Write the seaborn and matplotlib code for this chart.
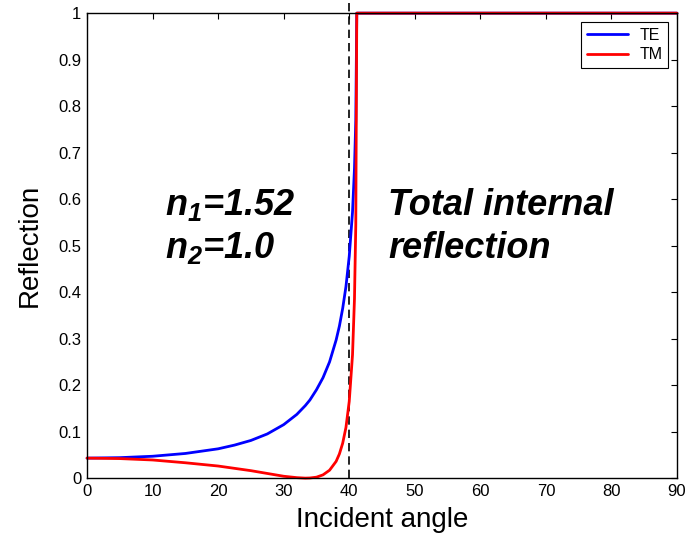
import numpy as np
import matplotlib
matplotlib.use("Agg")
import matplotlib.pyplot as plt
import pandas as pd
import seaborn as sns

# values
angles = [0, 5, 10, 15, 20, 22.5, 25, 27.5, 30, 32, 33.3, 34, 35, 36, 37, 38,
          38.5, 39, 39.5, 40, 40.5, 40.8, 41, 41.15, 45, 50, 60, 70, 80, 90]
te_vals = [0.043, 0.044, 0.047, 0.053, 0.063, 0.071, 0.081, 0.095, 0.115, 0.137,
           0.156, 0.168, 0.190, 0.216, 0.250, 0.297, 0.327, 0.365, 0.412, 0.477,
           0.572, 0.666, 0.770, 1.0, 1.0, 1.0, 1.0, 1.0, 1.0, 1.0]
tm_vals = [0.043, 0.042, 0.039, 0.033, 0.026, 0.021, 0.016, 0.010, 0.004, 0.001,
           0.0, 0.0003, 0.002, 0.007, 0.017, 0.036, 0.052, 0.075, 0.109, 0.165,
           0.265, 0.386, 0.545, 1.0, 1.0, 1.0, 1.0, 1.0, 1.0, 1.0]
critical_angle = 40

df = pd.DataFrame({
    "angle": angles * 2,
    "R": te_vals + tm_vals,
    "mode": ["TE"] * len(angles) + ["TM"] * len(angles),
})

sns.set_theme(style="white")
plt.rcParams["font.family"] = ["Liberation Sans", "DejaVu Sans"]
plt.rcParams["text.color"] = "black"
plt.rcParams["axes.labelcolor"] = "black"
plt.rcParams["mathtext.fontset"] = "custom"
plt.rcParams["mathtext.rm"] = "Liberation Sans:bold:italic"
plt.rcParams["mathtext.it"] = "Liberation Sans:bold:italic"

fig = plt.figure(figsize=(6.88, 5.36), dpi=100)
ax = fig.add_axes([0.1265, 0.108, 0.8575, 0.8675])

sns.lineplot(data=df, x="angle", y="R", hue="mode",
             palette={"TE": "#0000ff", "TM": "#ff0000"}, linewidth=2,
             ax=ax, clip_on=False)
ax.plot([critical_angle, critical_angle], [0, 1.03], color="black",
        ls=(0, (5, 3)), lw=1.2, clip_on=False, zorder=1)

ax.set_xlim(0, 90)
ax.set_ylim(0, 1)
ax.set_xticks(range(0, 91, 10))
ax.set_yticks(np.arange(0, 1.01, 0.1))
ax.set_yticklabels(["0", "0.1", "0.2", "0.3", "0.4", "0.5", "0.6", "0.7",
                    "0.8", "0.9", "1"])
ax.tick_params(direction="in", top=True, right=True, length=4, width=0.8,
               labelsize=12, colors="black", pad=4)
for s in ax.spines.values():
    s.set_color("black")
    s.set_linewidth(1)

ax.set_xlabel("Incident angle", fontsize=20, labelpad=6)
ax.set_ylabel("Reflection", fontsize=20, labelpad=11)

ax.text(11.9, 0.588, r"$n_1$=1.52", fontsize=26, fontweight="bold",
        style="italic", va="center")
ax.text(11.9, 0.494, r"$n_2$=1.0", fontsize=26, fontweight="bold",
        style="italic", va="center")
ax.text(45.9, 0.540, "Total internal\nreflection", fontsize=26,
        fontweight="bold", style="italic", va="center", linespacing=1.27)

leg = ax.legend(loc="upper right", fontsize=11.5, frameon=True, fancybox=False,
                edgecolor="black", framealpha=1, borderaxespad=0.55,
                handlelength=2.6, handletextpad=0.7, labelspacing=0.3,
                borderpad=0.35, title=None)
leg.get_frame().set_linewidth(0.8)

plt.savefig("out.png", dpi=100)
plt.close()
